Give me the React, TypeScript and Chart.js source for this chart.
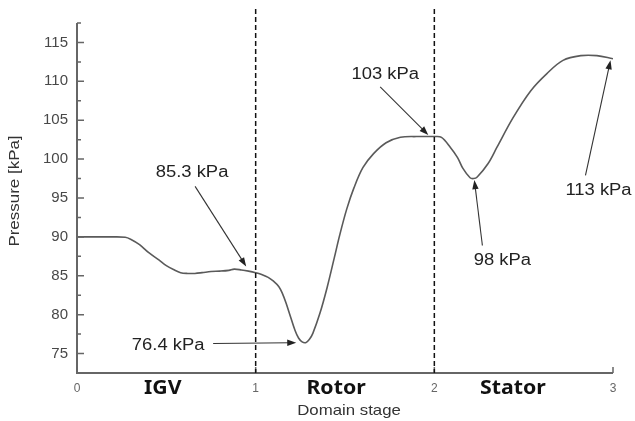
import React, { useEffect, useRef } from "react";
import { Chart, registerables } from "chart.js";

Chart.register(...registerables);

// Domain stage (x) and static pressure in kPa (y)
const stageX = [0, 0.1, 0.2, 0.27, 0.3, 0.35, 0.4, 0.46, 0.5, 0.54, 0.58, 0.62, 0.66, 0.7, 0.75, 0.8, 0.85, 0.88, 0.92, 0.96, 1.0, 1.03, 1.07, 1.1, 1.13, 1.15, 1.17, 1.19, 1.22, 1.24, 1.26, 1.28, 1.3, 1.32, 1.36, 1.4, 1.44, 1.47, 1.51, 1.55, 1.6, 1.66, 1.73, 1.81, 1.9, 2.0, 2.04, 2.09, 2.13, 2.16, 2.2, 2.22, 2.24, 2.3, 2.35, 2.44, 2.54, 2.63, 2.72, 2.82, 2.91, 3.0];
const pressure = [90.0, 90.0, 90.0, 89.95, 89.7, 89.0, 88.0, 87.0, 86.3, 85.8, 85.4, 85.3, 85.3, 85.4, 85.55, 85.6, 85.7, 85.85, 85.75, 85.6, 85.4, 85.2, 84.8, 84.3, 83.6, 82.7, 81.5, 80.1, 78.0, 77.0, 76.5, 76.4, 76.8, 77.6, 80.2, 83.5, 87.3, 90.2, 93.6, 96.3, 98.9, 100.7, 102.1, 102.8, 102.9, 102.9, 102.8, 101.5, 100.2, 98.8, 97.6, 97.5, 97.7, 99.4, 101.5, 105.3, 108.8, 111.0, 112.7, 113.3, 113.3, 112.9];

const yTickValues = [75, 80, 85, 90, 95, 100, 105, 110, 115];
const yMinorValues = [77.5, 82.5, 87.5, 92.5, 97.5, 102.5, 107.5, 112.5, 117.5];
const xTickValues = [0, 1, 2, 3];
const stageBoundaries = [1, 2];
const stageNames = ["IGV", "Rotor", "Stator"];
const stageNameX = [0.48, 1.45, 2.44];

// Annotation labels: text, label position, arrow start, arrow tip (data coords)
const noteText = ["85.3 kPa", "76.4 kPa", "103 kPa", "98 kPa", "113 kPa"];
const noteLabel = [[0.644, 98.3], [0.51, 76.0], [1.725, 110.9], [2.381, 87.0], [2.919, 96.0]];
const noteFrom = [[0.661, 96.5], [0.762, 76.3], [1.697, 109.3], [2.269, 88.9], [2.846, 97.9]];
const noteTip = [[0.947, 86.2], [1.227, 76.4], [1.966, 103.1], [2.224, 97.3], [2.986, 112.7]];

function stretchText(ctx: CanvasRenderingContext2D, text: string, x: number, y: number, sx: number, rot = 0) {
  ctx.save();
  ctx.translate(x, y);
  if (rot) ctx.rotate(rot);
  ctx.scale(sx, 1);
  ctx.textAlign = "center";
  ctx.textBaseline = "middle";
  ctx.fillText(text, 0, 0);
  ctx.restore();
}

function arrow(ctx: CanvasRenderingContext2D, x1: number, y1: number, x2: number, y2: number) {
  const a = Math.atan2(y2 - y1, x2 - x1);
  const len = 9, hw = 3.2;
  ctx.beginPath();
  ctx.moveTo(x1, y1);
  ctx.lineTo(x2 - Math.cos(a) * len * 0.6, y2 - Math.sin(a) * len * 0.6);
  ctx.stroke();
  ctx.beginPath();
  ctx.moveTo(x2, y2);
  ctx.lineTo(x2 - Math.cos(a) * len + Math.sin(a) * hw, y2 - Math.sin(a) * len - Math.cos(a) * hw);
  ctx.lineTo(x2 - Math.cos(a) * len - Math.sin(a) * hw, y2 - Math.sin(a) * len + Math.cos(a) * hw);
  ctx.closePath();
  ctx.fill();
}

const decorPlugin = {
  id: "decor",
  afterDraw(chart: any) {
    const ctx: CanvasRenderingContext2D = chart.ctx;
    const xs = chart.scales.x;
    const ys = chart.scales.y;
    const { left, right, top, bottom } = chart.chartArea;
    ctx.save();

    // axis lines
    ctx.strokeStyle = "#666";
    ctx.lineWidth = 2;
    ctx.beginPath();
    ctx.moveTo(left, top);
    ctx.lineTo(left, bottom);
    ctx.lineTo(right, bottom);
    ctx.stroke();

    // inward ticks
    ctx.lineWidth = 1.5;
    ctx.beginPath();
    yTickValues.forEach((v) => {
      const p = ys.getPixelForValue(v);
      ctx.moveTo(left, p);
      ctx.lineTo(left + 7, p);
    });
    yMinorValues.forEach((v) => {
      const p = ys.getPixelForValue(v);
      ctx.moveTo(left, p);
      ctx.lineTo(left + 4, p);
    });
    xTickValues.forEach((v) => {
      const p = xs.getPixelForValue(v);
      ctx.moveTo(p, bottom);
      ctx.lineTo(p, bottom - 6);
    });
    ctx.stroke();

    // dashed stage boundaries
    ctx.strokeStyle = "#111";
    ctx.lineWidth = 1.5;
    ctx.setLineDash([5, 3]);
    stageBoundaries.forEach((v) => {
      const p = xs.getPixelForValue(v);
      ctx.beginPath();
      ctx.moveTo(p, top - 14);
      ctx.lineTo(p, bottom);
      ctx.stroke();
    });
    ctx.setLineDash([]);

    // stage names
    ctx.fillStyle = "#111";
    ctx.font = "bold 19px 'Noto Sans'";
    stageNames.forEach((n, i) => {
      stretchText(ctx, n, xs.getPixelForValue(stageNameX[i]), bottom + 16, 1.12);
    });

    // annotations
    ctx.fillStyle = "#222";
    ctx.strokeStyle = "#333";
    ctx.lineWidth = 1.1;
    ctx.font = "16px 'Liberation Sans'";
    noteText.forEach((t, i) => {
      stretchText(ctx, t, xs.getPixelForValue(noteLabel[i][0]), ys.getPixelForValue(noteLabel[i][1]), 1.15);
      arrow(
        ctx,
        xs.getPixelForValue(noteFrom[i][0]),
        ys.getPixelForValue(noteFrom[i][1]),
        xs.getPixelForValue(noteTip[i][0]),
        ys.getPixelForValue(noteTip[i][1])
      );
    });

    // axis titles
    ctx.fillStyle = "#333";
    ctx.font = "15px 'Liberation Sans'";
    stretchText(ctx, "Domain stage", (left + right) / 2 + 4, bottom + 38, 1.12);
    stretchText(ctx, "Pressure [kPa]", 15, top + 168, 1.13, -Math.PI / 2);

    ctx.restore();
  },
};

export default function App() {
  const ref = useRef<HTMLCanvasElement | null>(null);
  useEffect(() => {
    if (!ref.current) return;
    const points = stageX.map((x, i) => ({ x, y: pressure[i] }));
    const chart = new Chart(ref.current, {
      type: "scatter",
      data: {
        datasets: [
          {
            data: points,
            showLine: true,
            borderColor: "#5a5a5a",
            borderWidth: 1.6,
            pointRadius: 0,
            tension: 0.35,
            fill: false,
          } as any,
        ],
      },
      options: {
        animation: false,
        responsive: true,
        maintainAspectRatio: false,
        layout: { padding: { top: 23, right: 22, left: 0, bottom: 0 } },
        plugins: { legend: { display: false }, tooltip: { enabled: false } },
        scales: {
          x: {
            type: "linear",
            min: 0,
            max: 3,
            grid: { display: false, drawTicks: false },
            border: { display: false },
            afterBuildTicks: (s: any) => {
              s.ticks = xTickValues.map((v) => ({ value: v }));
            },
            afterFit: (s: any) => {
              s.height = 48;
            },
            ticks: {
              color: "#666",
              padding: 8,
              font: { size: 12, family: "'Liberation Sans'" },
            },
          },
          y: {
            type: "linear",
            min: 72.5,
            max: 117.5,
            grid: { display: false, drawTicks: false },
            border: { display: false },
            afterBuildTicks: (s: any) => {
              s.ticks = yTickValues.map((v) => ({ value: v }));
            },
            afterFit: (s: any) => {
              s.width = 77;
            },
            ticks: {
              color: "#484848",
              padding: 9,
              font: { size: 15, family: "'Liberation Sans'" },
            },
          },
        },
      },
      plugins: [decorPlugin],
    });
    return () => chart.destroy();
  }, []);
  return (
    <div style={{ position: "absolute", left: 0, top: 0, width: 635, height: 421, background: "#fff" }}>
      <canvas ref={ref} />
    </div>
  );
}
